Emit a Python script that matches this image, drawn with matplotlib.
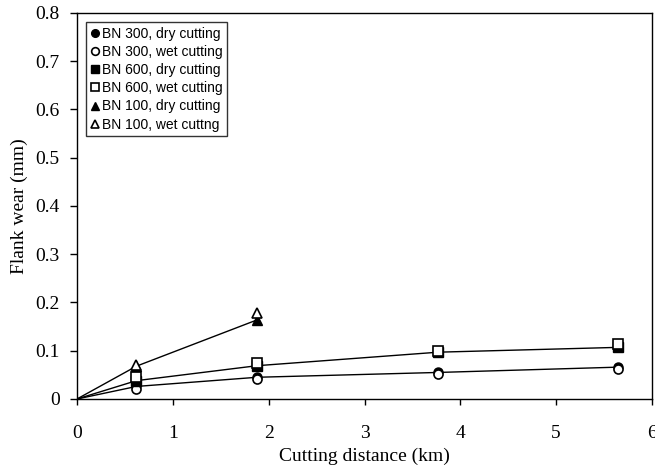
import matplotlib
matplotlib.use('Agg')
import matplotlib.pyplot as plt

# cutting distance (km), first point is the common origin
distance = [0, 0.62, 1.88, 3.77, 5.65]
distance_bn100 = [0, 0.62, 1.88]

# flank wear (mm)
bn300_dry = [0, 0.026, 0.045, 0.055, 0.066]
bn300_wet = [0, 0.021, 0.041, 0.051, 0.062]
bn600_dry = [0, 0.038, 0.069, 0.097, 0.107]
bn600_wet = [0, 0.046, 0.075, 0.099, 0.114]
bn100_dry = [0, 0.068, 0.164]
bn100_wet = [0, 0.071, 0.178]

fig = plt.figure(figsize=(6.55, 4.72), dpi=100)
ax = fig.add_axes([0.1176, 0.1547, 0.8778, 0.8178])

serif = 'Liberation Serif'
sans = 'Liberation Sans'
ms = 6.5

# lines run through the dry cutting points
ax.plot(distance, bn300_dry, color='black', lw=1, marker='o', ms=ms,
        mfc='black', mec='black', markevery=slice(1, None), label='BN 300, dry cutting')
ax.plot(distance, bn300_wet, ls='none', marker='o', ms=ms, mfc='white', mec='black',
        mew=1.2, markevery=slice(1, None), label='BN 300, wet cutting')
ax.plot(distance, bn600_dry, color='black', lw=1, marker='s', ms=ms,
        mfc='black', mec='black', markevery=slice(1, None), label='BN 600, dry cutting')
ax.plot(distance, bn600_wet, ls='none', marker='s', ms=ms, mfc='white', mec='black',
        mew=1.2, markevery=slice(1, None), label='BN 600, wet cutting')
ax.plot(distance_bn100, bn100_dry, color='black', lw=1, marker='^', ms=ms,
        mfc='black', mec='black', markevery=slice(1, None), label='BN 100, dry cutting')
ax.plot(distance_bn100, bn100_wet, ls='none', marker='^', ms=ms, mfc='white', mec='black',
        mew=1.2, markevery=slice(1, None), label='BN 100, wet cuttng')

ax.set_xlim(0, 6)
ax.set_ylim(0, 0.8)
ax.set_xticks([0, 1, 2, 3, 4, 5, 6])
ax.set_yticks([0, 0.1, 0.2, 0.3, 0.4, 0.5, 0.6, 0.7, 0.8])
ax.set_yticklabels(['0', '0.1', '0.2', '0.3', '0.4', '0.5', '0.6', '0.7', '0.8'])
ax.tick_params(direction='out', width=1, labelsize=14)
ax.tick_params(axis='x', length=4, pad=15)
ax.tick_params(axis='y', length=5, pad=7.5)
for lab in ax.get_xticklabels() + ax.get_yticklabels():
    lab.set_fontfamily(serif)
for sp in ax.spines.values():
    sp.set_linewidth(1)

ax.set_xlabel('Cutting distance (km)', fontfamily=serif, fontsize=14, labelpad=4)
ax.set_ylabel('Flank wear (mm)', fontfamily=serif, fontsize=14, labelpad=5)

leg = ax.legend(loc='upper left', bbox_to_anchor=(0.015, 0.977), frameon=True,
                fancybox=False, edgecolor='black', handlelength=0.6, handletextpad=0.2,
                labelspacing=0.3, borderpad=0.35, borderaxespad=0,
                prop={'family': sans, 'size': 10}, markerscale=0.85)
leg.get_frame().set_linewidth(1)
for line in leg.get_lines():
    line.set_linestyle('none')

fig.savefig('out.png', dpi=100)
